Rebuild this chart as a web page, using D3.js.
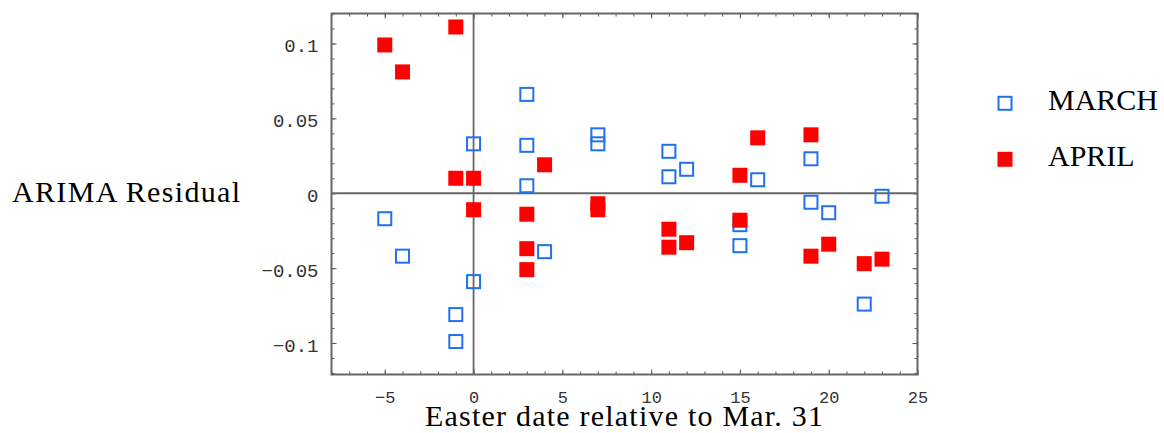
<!DOCTYPE html>
<html>
<head>
<meta charset="utf-8">
<script src="https://cdn.jsdelivr.net/npm/d3@7"></script>
<style>
  body { margin: 0; background: #fff; }
  svg { display: block; }
</style>
</head>
<body>
<svg id="chart" width="1164" height="433"></svg>
<script>
// Easter date relative to Mar. 31 vs ARIMA residual, per month
const marchDays  = [-5, -4, -1, -1, 0, 0, 3, 3, 3, 4, 7, 7, 11, 11, 12, 15, 15, 16, 19, 19, 20, 22, 23];
const marchResid = [-0.017, -0.042, -0.081, -0.099, 0.033, -0.059, 0.066, 0.032, 0.005, -0.039, 0.039, 0.033,
                    0.028, 0.011, 0.016, -0.021, -0.035, 0.009, 0.023, -0.006, -0.013, -0.074, -0.002];
const aprilDays  = [-5, -4, -1, -1, 0, 0, 3, 3, 3, 4, 7, 7, 11, 11, 12, 15, 15, 16, 19, 19, 20, 22, 23];
const aprilResid = [0.099, 0.081, 0.111, 0.010, 0.010, -0.011, -0.014, -0.037, -0.051, 0.019, -0.007, -0.011,
                    -0.024, -0.036, -0.033, 0.012, -0.018, 0.037, 0.039, -0.042, -0.034, -0.047, -0.044];

const xTicks = [-5, 0, 5, 10, 15, 20, 25];
const yTicks = [-0.1, -0.05, 0, 0.05, 0.1];
const seriesNames = ["MARCH", "APRIL"];

const plotLeft = 331.5, plotRight = 917.5, plotTop = 13.5, plotBottom = 374.5;
const blue = "#2070f0", red = "#ff0000", frameColor = "#666";

const svg = d3.select("#chart");

const x = d3.scaleLinear().domain([-8, 25]).range([plotLeft, plotRight]);
const y = d3.scaleLinear().domain([-0.121, 0.12]).range([plotBottom, plotTop]);

const fmt = d => d === 0 ? "0" : String(d).replace("-", "\u2212");
const xMinor = d3.range(-8, 26, 1);
const yMinor = d3.range(-12, 13, 1).map(d => d / 100);

function styleAxis(g) {
  g.select(".domain").remove();
  g.selectAll(".tick line").attr("stroke", "#555").attr("stroke-width", 1);
}

// minor ticks on all four sides
svg.append("g").attr("transform", `translate(0,${plotBottom})`)
  .call(d3.axisBottom(x).tickValues(xMinor).tickSize(-3).tickFormat("")).call(styleAxis);
svg.append("g").attr("transform", `translate(0,${plotTop})`)
  .call(d3.axisTop(x).tickValues(xMinor).tickSize(-3).tickFormat("")).call(styleAxis);
svg.append("g").attr("transform", `translate(${plotLeft},0)`)
  .call(d3.axisLeft(y).tickValues(yMinor).tickSize(-3).tickFormat("")).call(styleAxis);
svg.append("g").attr("transform", `translate(${plotRight},0)`)
  .call(d3.axisRight(y).tickValues(yMinor).tickSize(-3).tickFormat("")).call(styleAxis);

// major ticks
const xAxis = svg.append("g").attr("transform", `translate(0,${plotBottom})`)
  .call(d3.axisBottom(x).tickValues(xTicks).tickSize(-5).tickFormat(fmt)).call(styleAxis);
xAxis.selectAll("text")
  .attr("y", 28.5).attr("dy", null)
  .attr("fill", "#333")
  .style("font-family", "'Liberation Mono', 'DejaVu Sans Mono', monospace")
  .style("font-size", "17px");

svg.append("g").attr("transform", `translate(0,${plotTop})`)
  .call(d3.axisTop(x).tickValues(xTicks).tickSize(-5).tickFormat("")).call(styleAxis);

const yAxis = svg.append("g").attr("transform", `translate(${plotLeft},0)`)
  .call(d3.axisLeft(y).tickValues(yTicks).tickSize(-5).tickPadding(13).tickFormat(fmt)).call(styleAxis);
yAxis.selectAll("text")
  .attr("dy", "0.42em")
  .attr("fill", "#333")
  .style("font-family", "'Liberation Mono', 'DejaVu Sans Mono', monospace")
  .style("font-size", "19px");

svg.append("g").attr("transform", `translate(${plotRight},0)`)
  .call(d3.axisRight(y).tickValues(yTicks).tickSize(-5).tickFormat("")).call(styleAxis);

// frame
svg.append("rect")
  .attr("x", plotLeft).attr("y", plotTop)
  .attr("width", plotRight - plotLeft).attr("height", plotBottom - plotTop)
  .attr("fill", "none")
  .attr("stroke", frameColor)
  .attr("stroke-width", 2);

// zero lines
svg.append("line")
  .attr("x1", x(0)).attr("x2", x(0))
  .attr("y1", plotTop).attr("y2", plotBottom)
  .attr("stroke", frameColor).attr("stroke-width", 1.8);
svg.append("line")
  .attr("x1", plotLeft).attr("x2", plotRight)
  .attr("y1", y(0)).attr("y2", y(0))
  .attr("stroke", frameColor).attr("stroke-width", 1.8);

// March: open blue squares
svg.append("g").selectAll("rect")
  .data(marchDays.map((d, i) => [d, marchResid[i]]))
  .enter().append("rect")
  .attr("x", d => x(d[0]) - 6.5)
  .attr("y", d => y(d[1]) - 6.5)
  .attr("width", 13).attr("height", 13)
  .attr("fill", "none")
  .attr("stroke", blue)
  .attr("stroke-width", 2);

// April: filled red squares
svg.append("g").selectAll("rect")
  .data(aprilDays.map((d, i) => [d, aprilResid[i]]))
  .enter().append("rect")
  .attr("x", d => x(d[0]) - 7.5)
  .attr("y", d => y(d[1]) - 7.5)
  .attr("width", 15).attr("height", 15)
  .attr("fill", red);

// axis titles
svg.append("text")
  .attr("x", 12).attr("y", 201.5)
  .attr("textLength", 228)
  .style("font-family", "'Liberation Serif', 'Times New Roman', serif")
  .style("font-size", "30px")
  .text("ARIMA Residual");

svg.append("text")
  .attr("x", 425).attr("y", 425.5)
  .attr("textLength", 398)
  .style("font-family", "'Liberation Serif', 'Times New Roman', serif")
  .style("font-size", "30px")
  .text("Easter date relative to Mar. 31");

// legend
const legend = svg.append("g");
seriesNames.forEach((name, i) => {
  const cy = 103.3 + i * 56;
  if (i === 0) {
    legend.append("rect")
      .attr("x", 998.5).attr("y", cy - 6.5)
      .attr("width", 13).attr("height", 13)
      .attr("fill", "none").attr("stroke", blue).attr("stroke-width", 2);
  } else {
    legend.append("rect")
      .attr("x", 997.5).attr("y", cy - 7.5)
      .attr("width", 15).attr("height", 15)
      .attr("fill", red);
  }
  legend.append("text")
    .attr("x", 1048).attr("y", cy + 7)
    .style("font-family", "'Liberation Serif', 'Times New Roman', serif")
    .style("font-size", "30px")
    .text(name);
});
</script>
</body>
</html>
